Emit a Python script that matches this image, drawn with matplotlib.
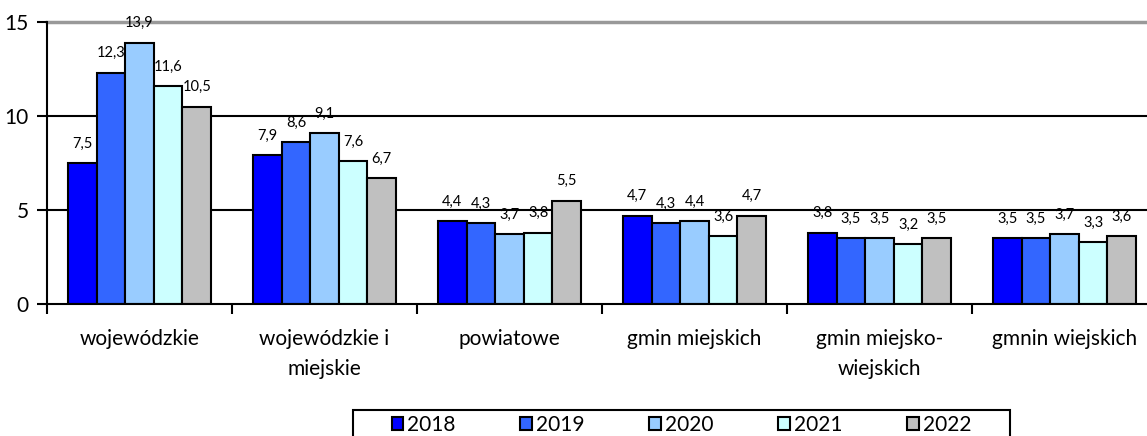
import matplotlib.pyplot as plt
from matplotlib.patches import Rectangle
import numpy as np

# --- data ---
categories = ['wojewódzkie', 'wojewódzkie i\nmiejskie', 'powiatowe',
              'gmin miejskich', 'gmin miejsko-\nwiejskich', 'gmnin wiejskich']
years = ['2018', '2019', '2020', '2021', '2022']
v2018 = [7.5, 7.9, 4.4, 4.7, 3.8, 3.5]
v2019 = [12.3, 8.6, 4.3, 4.3, 3.5, 3.5]
v2020 = [13.9, 9.1, 3.7, 4.4, 3.5, 3.7]
v2021 = [11.6, 7.6, 3.8, 3.6, 3.2, 3.3]
v2022 = [10.5, 6.7, 5.5, 4.7, 3.5, 3.6]
series = [v2018, v2019, v2020, v2021, v2022]
colors = ['#0000FF', '#3366FF', '#99CCFF', '#CCFFFF', '#C0C0C0']

plt.rcParams['font.family'] = ['Lato', 'DejaVu Sans']

fig = plt.figure(figsize=(11.47, 4.36), dpi=100)
ax = fig.add_axes([47/1147, 1-304/436, 1110/1147, 282/436])

x = np.arange(len(categories))
w = 0.773 / 5
for i, vals in enumerate(series):
    pos = x - 0.773/2 + w/2 + i*w
    bars = ax.bar(pos, vals, w, color=colors[i], edgecolor='black',
                  linewidth=1.5, label=years[i], zorder=3)
    for b, v in zip(bars, vals):
        ax.annotate(f'{v:.1f}'.replace('.', ','),
                    (b.get_x() + b.get_width()/2, v),
                    xytext=(0, 14), textcoords='offset points',
                    ha='center', va='center', fontsize=10.5, zorder=4)

# gridlines
ax.axhline(5, color='black', lw=1.5, zorder=1)
ax.axhline(10, color='black', lw=1.5, zorder=1)
ax.axhline(15, color='#999999', lw=2.5, zorder=1, clip_on=False)

ax.set_xlim(-0.5, 5.5)
ax.set_ylim(0, 15)
ax.set_yticks([0, 5, 10, 15])
ax.tick_params(axis='y', length=7, width=1.5, labelsize=15, pad=6)
ax.set_xticks(x)
ax.set_xticklabels(categories, fontsize=15, linespacing=1.6)
ax.tick_params(axis='x', which='major', length=0, pad=18)
ax.set_xticks(np.arange(-0.5, 6, 1), minor=True)
ax.tick_params(axis='x', which='minor', length=7, width=1.5)

for s in ['top', 'right']:
    ax.spines[s].set_visible(False)
ax.spines['left'].set_linewidth(1.5)
ax.spines['bottom'].set_linewidth(1.5)
ax.spines['bottom'].set_zorder(5)

# legend (box drawn separately, runs off the bottom edge like the source)
fig.legend(loc='center', bbox_to_anchor=(681.5/1147, 1-425/436),
           ncol=5, fontsize=15, frameon=False,
           handlelength=0.56, handleheight=0.56,
           handletextpad=0.2, columnspacing=3.1, borderpad=0,
           borderaxespad=0)
fig.patches.append(Rectangle((353/1147, -0.05), (1010-353)/1147,
                             1-410/436+0.05, transform=fig.transFigure,
                             fill=False, edgecolor='black', lw=1.5))

fig.savefig('out.png', dpi=100)
